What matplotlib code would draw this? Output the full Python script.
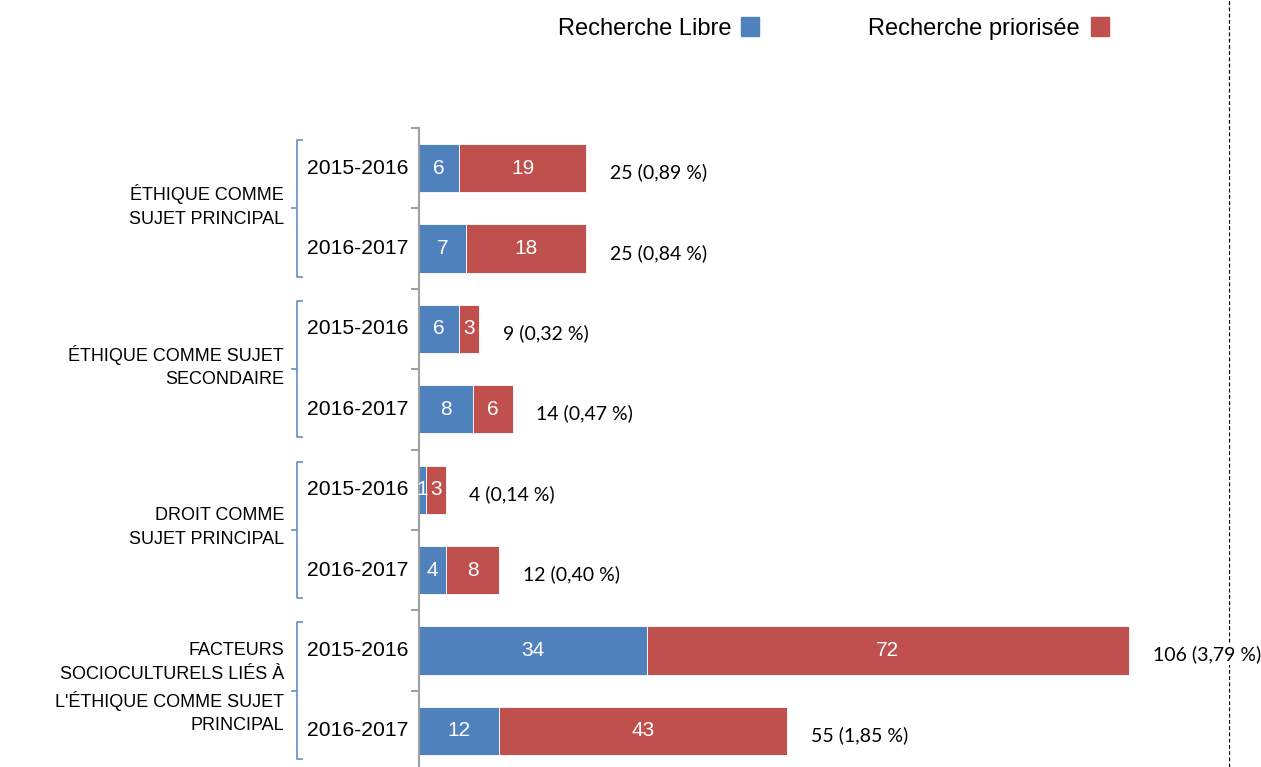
import matplotlib.pyplot as plt
import matplotlib.transforms as mtransforms
from matplotlib.lines import Line2D
import numpy as np

groups = ["ÉTHIQUE COMME\nSUJET PRINCIPAL",
          "ÉTHIQUE COMME SUJET\nSECONDAIRE",
          "DROIT COMME\nSUJET PRINCIPAL",
          "FACTEURS\nSOCIOCULTURELS LIÉS À\nL'ÉTHIQUE COMME SUJET\nPRINCIPAL"]
years = ["2015-2016", "2016-2017"]
libre = [6, 7, 6, 8, 1, 4, 34, 12]
priorisee = [19, 18, 3, 6, 3, 8, 72, 43]
totals = ["25 (0,89 %)", "25 (0,84 %)", "9 (0,32 %)", "14 (0,47 %)",
          "4 (0,14 %)", "12 (0,40 %)", "106 (3,79 %)", "55 (1,85 %)"]

blue = '#4F81BD'
red = '#C0504D'
W, H = 1261, 767

fig = plt.figure(figsize=(W / 100, H / 100), dpi=100)
ax = fig.add_axes([419 / W, -4 / H, 810 / W, 643 / H])

y = np.arange(len(libre))
ax.barh(y, libre, height=0.6, color=blue, edgecolor='white', linewidth=0.6)
ax.barh(y, priorisee, left=libre, height=0.6, color=red, edgecolor='white', linewidth=0.6)

ax.set_xlim(0, 810 / (710 / 106))
ax.set_ylim(len(libre) - 0.5, -0.5)

for i in range(len(libre)):
    ax.text(libre[i] / 2, i, str(libre[i]), color='white', ha='center', va='center',
            fontsize=15, family='Liberation Sans')
    ax.text(libre[i] + priorisee[i] / 2, i, str(priorisee[i]), color='white',
            ha='center', va='center', fontsize=15, family='Liberation Sans')
    tot = libre[i] + priorisee[i]
    ax.annotate(totals[i], (tot, i), xytext=(17, -3), textcoords='offset points',
                ha='left', va='center', fontsize=14, family='Lato',
                bbox=dict(facecolor='white', edgecolor='none', pad=1),
                annotation_clip=False, zorder=5)

# axis styling
for s in ['top', 'right', 'bottom']:
    ax.spines[s].set_visible(False)
ax.spines['left'].set_color('#A0A0A0')
ax.spines['left'].set_linewidth(1.5)
ax.set_xticks([])
ax.set_yticks(np.arange(-0.5, len(libre) + 0.5, 1))
ax.set_yticklabels([])
ax.tick_params(axis='y', direction='out', length=6, width=1.5, color='#A0A0A0')

tr = mtransforms.blended_transform_factory(fig.transFigure, ax.transData)

# year labels
for i in range(len(libre)):
    ax.text(307 / W, i, years[i % 2], transform=tr, ha='left', va='center',
            fontsize=15.2, family='Liberation Sans')

# brackets and group labels
bc = '#6F97C8'
for g, label in enumerate(groups):
    top = 2 * g - 0.5 + 0.15
    bot = 2 * g + 1.5 - 0.15
    mid = 2 * g + 0.5
    x0, x1 = 297 / W, 302 / W
    fig.add_artist(Line2D([x1, x0, x0, x1], [top, top, bot, bot], transform=tr,
                          color=bc, lw=1.3))
    fig.add_artist(Line2D([x0, 292 / W], [mid, mid], transform=tr, color=bc, lw=1.3))
    ax.text(284 / W, mid - 0.03, label, transform=tr, ha='right', va='center',
            multialignment='right', fontsize=13, family='Liberation Sans',
            linespacing=1.5)

# dashed vertical line at right
fig.add_artist(Line2D([1229 / W, 1229 / W], [0, 1], transform=fig.transFigure,
                      color='black', lw=0.9, ls=(0, (3, 2)), zorder=0))

# legend
fig.text(731 / W, 1 - 29 / H, "Recherche Libre", ha='right', va='center',
         fontsize=17, family='Liberation Sans')
fig.add_artist(plt.Rectangle((741 / W, 1 - 36 / H), 18 / W, 19 / H,
                             transform=fig.transFigure, color=blue))
fig.text(1080 / W, 1 - 29 / H, "Recherche priorisée", ha='right', va='center',
         fontsize=17, family='Liberation Sans')
fig.add_artist(plt.Rectangle((1091 / W, 1 - 36 / H), 18 / W, 19 / H,
                             transform=fig.transFigure, color=red))

fig.savefig('out.png', dpi=100)
